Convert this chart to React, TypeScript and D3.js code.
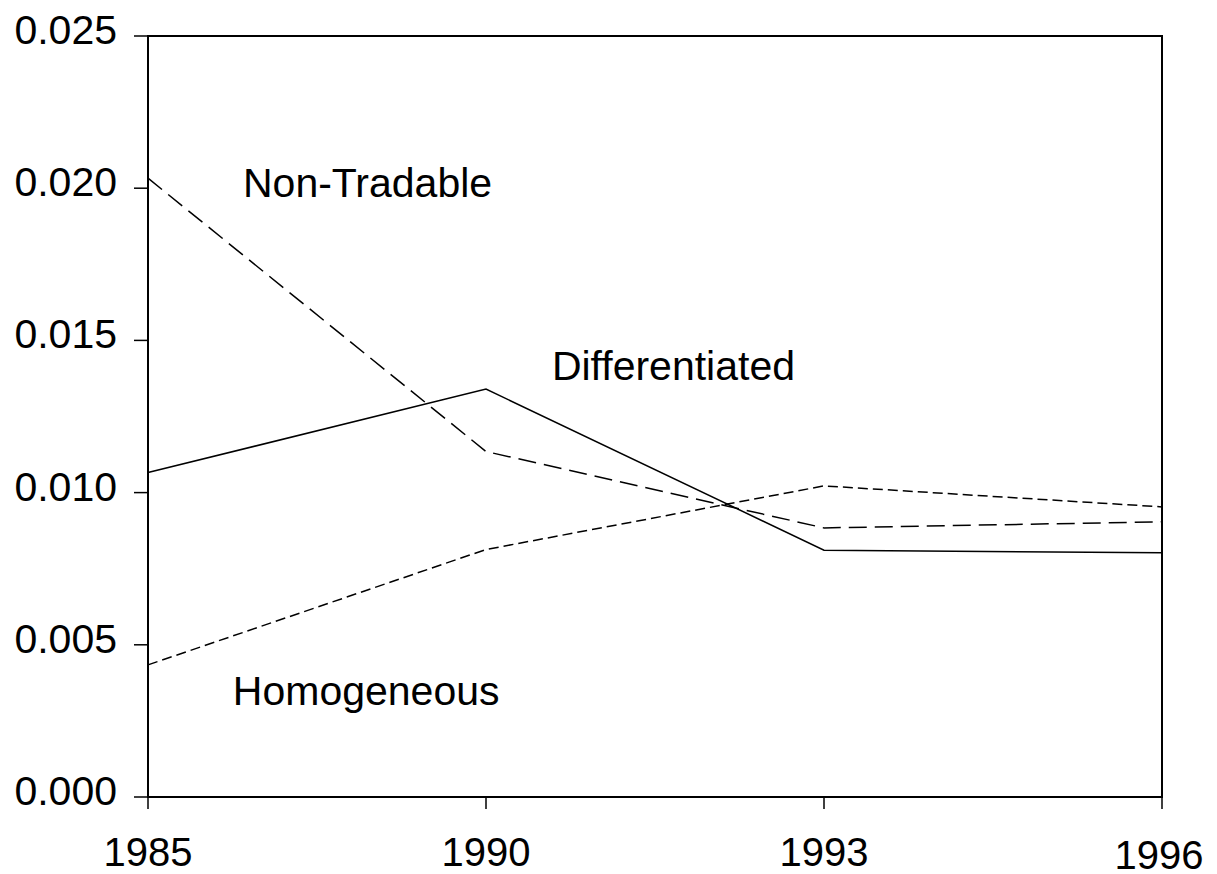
import React from "react";
import * as d3 from "d3";

const years = ["1985", "1990", "1993", "1996"];
const differentiated = [0.01066, 0.01340, 0.00811, 0.00802];
const nonTradable = [0.02033, 0.01135, 0.00884, 0.00904];
const homogeneous = [0.00434, 0.00813, 0.01022, 0.00953];
const yTicks = [0, 0.005, 0.01, 0.015, 0.02, 0.025];

const seriesNames = ["Differentiated", "Non-Tradable", "Homogeneous"];
// label anchors in data space: [category position (index units), value]
const labelIdx = [1.195, 0.281, 0.251];
const labelVal = [0.0137, 0.01971, 0.00302];

const W = 1217;
const H = 874;
const margin = { left: 148, right: 1162, top: 36, bottom: 797 };
const FONT = "'Liberation Sans', Arial, Helvetica, sans-serif";

export default function App() {
  const x = d3.scalePoint<string>().domain(years).range([margin.left, margin.right]);
  const xi = d3.scaleLinear().domain([0, years.length - 1]).range([margin.left, margin.right]);
  const y = d3.scaleLinear().domain([0, 0.025]).range([margin.bottom, margin.top]);

  const line = d3
    .line<number>()
    .x((_, i) => x(years[i]) as number)
    .y((d) => y(d));

  const series = [
    { values: differentiated, dash: undefined as string | undefined },
    { values: nonTradable, dash: "18,8" },
    { values: homogeneous, dash: "10,5" },
  ];

  return (
    <svg
      width={W}
      height={H}
      style={{ position: "absolute", left: 0, top: 0, background: "#fff" }}
      fontFamily={FONT}
    >
      <rect x={0} y={0} width={W} height={H} fill="#fff" />
      {/* y ticks */}
      {yTicks.map((t) => (
        <g key={"y" + t}>
          <line x1={margin.left - 14} x2={margin.left} y1={y(t)} y2={y(t)} stroke="#000" strokeWidth={1.5} />
          <text x={117} y={y(t) + 8} textAnchor="end" fontSize={41} fill="#000">
            {d3.format(".3f")(t)}
          </text>
        </g>
      ))}
      {/* x ticks */}
      {years.map((yr, i) => {
        const last = i === years.length - 1;
        return (
          <g key={"x" + yr}>
            <line x1={x(yr)} x2={x(yr)} y1={margin.bottom} y2={margin.bottom + 12} stroke="#000" strokeWidth={1.5} />
            <text
              x={(x(yr) as number) - (last ? 3 : 0)}
              y={866 + (last ? 3 : 0)}
              textAnchor="middle"
              fontSize={40}
              fill="#000"
            >
              {yr}
            </text>
          </g>
        );
      })}
      {/* series */}
      {series.map((s, i) => (
        <path
          key={"s" + i}
          d={line(s.values) || ""}
          fill="none"
          stroke="#000"
          strokeWidth={1.5}
          strokeDasharray={s.dash}
        />
      ))}
      {/* frame */}
      <rect
        x={margin.left}
        y={margin.top}
        width={margin.right - margin.left}
        height={margin.bottom - margin.top}
        fill="none"
        stroke="#000"
        strokeWidth={2}
      />
      {/* labels */}
      {seriesNames.map((n, i) => (
        <text key={"l" + n} x={xi(labelIdx[i])} y={y(labelVal[i])} fontSize={41} fill="#000">
          {n}
        </text>
      ))}
    </svg>
  );
}
